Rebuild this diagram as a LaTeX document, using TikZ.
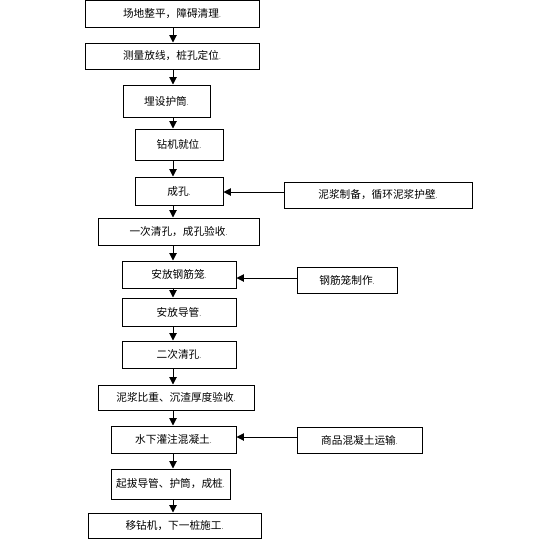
\documentclass[tikz,border=0pt]{standalone}
\usepackage{fontspec}
\newfontfamily\cjk{Noto Sans CJK SC}
\usepackage{tikz}
\usetikzlibrary{arrows.meta,positioning,calc}
\newcommand{\pmark}{{\tiny.}}

\begin{document}
\begin{tikzpicture}[x=0.75pt, y=-0.75pt, font=\cjk\fontsize{8}{9}\selectfont,
  stepbox/.style={draw, line width=0.75pt, fill=white, inner sep=0pt},
  arr/.style={-{Triangle[width=5.5pt,length=5.5pt]}, line width=0.75pt}]
  \useasboundingbox (0,0) rectangle (554,543);
  \coordinate (ax) at (173,0);
  % ---------- main line ----------
  \node[stepbox, minimum width=174*0.75pt, minimum height=27*0.75pt] (zp) at (172,13.5) {场地整平，障碍清理\pmark};
  \node[stepbox, minimum width=174*0.75pt, minimum height=26*0.75pt] (fx) at (172,56) {测量放线，桩孔定位\pmark};
  \node[stepbox, minimum width=87*0.75pt, minimum height=32*0.75pt] (hu) at (166.5,101) {埋设护筒\pmark};
  \node[stepbox, minimum width=88*0.75pt, minimum height=31*0.75pt] (zj) at (179,144.5) {钻机就位\pmark};
  \node[stepbox, minimum width=88*0.75pt, minimum height=28*0.75pt] (ck) at (179,191) {成孔\pmark};
  \node[stepbox, minimum width=161*0.75pt, minimum height=27*0.75pt] (qk1) at (178.5,231.5) {一次清孔，成孔验收\pmark};
  \node[stepbox, minimum width=114*0.75pt, minimum height=27*0.75pt] (gl) at (179,274.5) {安放钢筋笼\pmark};
  \node[stepbox, minimum width=114*0.75pt, minimum height=28*0.75pt] (dg) at (179,312) {安放导管\pmark};
  \node[stepbox, minimum width=114*0.75pt, minimum height=27*0.75pt] (qk2) at (179,354.5) {二次清孔\pmark};
  \node[stepbox, minimum width=156*0.75pt, minimum height=25*0.75pt] (ys) at (176,397.5) {泥浆比重、沉渣厚度验收\pmark};
  \node[stepbox, minimum width=125*0.75pt, minimum height=27*0.75pt] (gz) at (173.5,439.5) {水下灌注混凝土\pmark};
  \node[stepbox, minimum width=119*0.75pt, minimum height=30*0.75pt] (cz) at (170.5,484) {起拔导管、护筒，成桩\pmark};
  \node[stepbox, minimum width=173*0.75pt, minimum height=25*0.75pt] (yz) at (174.5,525.5) {移钻机，下一桩施工\pmark};
  % ---------- side inputs ----------
  \node[stepbox, minimum width=188*0.75pt, minimum height=26*0.75pt] (nj) at (378,195) {泥浆制备，循环泥浆护壁\pmark};
  \node[stepbox, minimum width=100*0.75pt, minimum height=26*0.75pt] (zz) at (347,280) {钢筋笼制作\pmark};
  \node[stepbox, minimum width=125*0.75pt, minimum height=26*0.75pt] (ys2) at (359.5,440) {商品混凝土运输\pmark};
  % ---------- arrows ----------
  \foreach \a/\b in {zp/fx, fx/hu, hu/zj, zj/ck, ck/qk1, qk1/gl, gl/dg, dg/qk2, qk2/ys, ys/gz, gz/cz, cz/yz}
    \draw[arr] (\a.south -| ax) -- (\b.north -| ax);
  \draw[arr] ($(nj.west)+(0,-3)$) -- ($(ck.east |- nj.west)+(0,-3)$);
  \draw[arr] ($(zz.west)+(0,-2)$) -- ($(gl.east |- zz.west)+(0,-2)$);
  \draw[arr] ($(ys2.west)+(0,-3)$) -- ($(gz.east |- ys2.west)+(0,-3)$);
\end{tikzpicture}
\end{document}
